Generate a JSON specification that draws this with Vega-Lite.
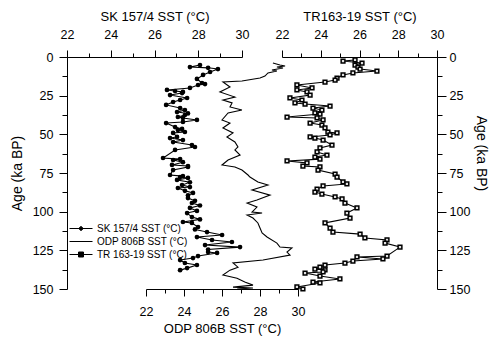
{
  "$schema": "https://vega.github.io/schema/vega-lite/v6.json",
  "width": 370,
  "height": 232,
  "autosize": {"type": "none"},
  "padding": {"left": 67, "top": 57, "right": 53, "bottom": 55},
  "config": {
    "view": {"stroke": null},
    "font": "Liberation Sans",
    "axis": {
      "domainColor": "black", "tickColor": "black", "labelColor": "black", "titleColor": "black",
      "labelFont": "Liberation Sans", "titleFont": "Liberation Sans",
      "labelFontSize": 12.5, "titleFontSize": 13, "titleFontWeight": "normal",
      "grid": false, "domainWidth": 1, "tickWidth": 1, "labelFlush": false, "labelOverlap": false
    },
    "legend": {
      "orient": "none", "legendX": 8.5, "legendY": 166, "padding": 0,
      "labelFont": "Liberation Sans", "labelFontSize": 10, "labelColor": "black",
      "rowPadding": 2, "labelOffset": 10.5, "symbolSize": 100
    }
  },
  "datasets": {
    "sk": [
      {"age": 5.2, "sst": 28.08}, {"age": 6.5, "sst": 27.62}, {"age": 7.0, "sst": 28.45}, {"age": 7.8, "sst": 28.9},
      {"age": 9.7, "sst": 28.54}, {"age": 11.6, "sst": 28.22}, {"age": 14.2, "sst": 27.94}, {"age": 16.8, "sst": 28.17},
      {"age": 17.5, "sst": 28.31}, {"age": 18.1, "sst": 27.99}, {"age": 20.0, "sst": 27.62}, {"age": 21.3, "sst": 26.57},
      {"age": 22.0, "sst": 26.94}, {"age": 22.6, "sst": 27.3}, {"age": 23.3, "sst": 27.26}, {"age": 24.6, "sst": 26.71},
      {"age": 26.5, "sst": 27.49}, {"age": 27.8, "sst": 27.17}, {"age": 29.1, "sst": 26.85}, {"age": 31.0, "sst": 26.53},
      {"age": 33.0, "sst": 27.17}, {"age": 34.3, "sst": 27.39}, {"age": 35.6, "sst": 27.03}, {"age": 36.5, "sst": 27.53},
      {"age": 37.5, "sst": 27.39}, {"age": 38.8, "sst": 27.07}, {"age": 39.4, "sst": 27.3}, {"age": 40.7, "sst": 27.94},
      {"age": 42.0, "sst": 27.3}, {"age": 42.7, "sst": 26.53}, {"age": 45.3, "sst": 26.94}, {"age": 46.5, "sst": 27.26},
      {"age": 47.2, "sst": 27.07}, {"age": 48.5, "sst": 27.39}, {"age": 49.1, "sst": 26.85}, {"age": 51.7, "sst": 27.03},
      {"age": 52.4, "sst": 26.71}, {"age": 53.7, "sst": 27.3}, {"age": 55.0, "sst": 26.85}, {"age": 56.9, "sst": 27.71},
      {"age": 58.2, "sst": 27.85}, {"age": 60.1, "sst": 26.94}, {"age": 65.3, "sst": 26.39}, {"age": 66.0, "sst": 27.17},
      {"age": 66.6, "sst": 26.85}, {"age": 68.0, "sst": 27.3}, {"age": 69.8, "sst": 26.8}, {"age": 70.5, "sst": 27.53},
      {"age": 71.1, "sst": 27.53}, {"age": 73.1, "sst": 26.85}, {"age": 76.3, "sst": 26.71}, {"age": 77.0, "sst": 27.3},
      {"age": 77.6, "sst": 27.17}, {"age": 78.2, "sst": 27.53}, {"age": 79.5, "sst": 27.03}, {"age": 81.0, "sst": 27.62},
      {"age": 82.8, "sst": 27.26}, {"age": 84.1, "sst": 27.62}, {"age": 84.7, "sst": 27.07}, {"age": 86.5, "sst": 27.39},
      {"age": 87.9, "sst": 27.76}, {"age": 89.5, "sst": 27.53}, {"age": 91.2, "sst": 27.53}, {"age": 93.0, "sst": 27.85},
      {"age": 94.4, "sst": 27.71}, {"age": 96.0, "sst": 28.08}, {"age": 97.6, "sst": 27.62}, {"age": 99.5, "sst": 27.94},
      {"age": 100.9, "sst": 27.49}, {"age": 103.5, "sst": 27.71}, {"age": 105.0, "sst": 28.08}, {"age": 106.7, "sst": 27.3},
      {"age": 107.3, "sst": 27.71}, {"age": 109.9, "sst": 27.99}, {"age": 111.5, "sst": 27.85}, {"age": 113.2, "sst": 28.4},
      {"age": 115.1, "sst": 29.09}, {"age": 116.4, "sst": 27.94}, {"age": 118.3, "sst": 28.63}, {"age": 119.6, "sst": 29.54},
      {"age": 121.6, "sst": 28.31}, {"age": 122.9, "sst": 29.91}, {"age": 124.5, "sst": 28.45}, {"age": 126.1, "sst": 28.45},
      {"age": 126.7, "sst": 28.86}, {"age": 128.7, "sst": 27.99}, {"age": 130.0, "sst": 27.76}, {"age": 131.3, "sst": 27.17},
      {"age": 133.2, "sst": 27.39}, {"age": 134.5, "sst": 27.94}, {"age": 136.5, "sst": 27.49}, {"age": 137.8, "sst": 27.17}
    ],
    "odp": [
      {"age": 3.9, "sst": 28.68}, {"age": 5.2, "sst": 29.05}, {"age": 5.8, "sst": 29.32}, {"age": 6.5, "sst": 28.89},
      {"age": 7.1, "sst": 29.21}, {"age": 8.4, "sst": 28.63}, {"age": 9.1, "sst": 28.89}, {"age": 10.3, "sst": 28.42},
      {"age": 12.3, "sst": 28.26}, {"age": 13.6, "sst": 28.0}, {"age": 15.5, "sst": 27.05}, {"age": 16.2, "sst": 26.05},
      {"age": 19.4, "sst": 26.42}, {"age": 22.6, "sst": 25.89}, {"age": 25.9, "sst": 26.68}, {"age": 27.8, "sst": 26.05},
      {"age": 29.7, "sst": 26.53}, {"age": 32.3, "sst": 26.42}, {"age": 34.3, "sst": 27.05}, {"age": 36.2, "sst": 26.32},
      {"age": 40.7, "sst": 26.0}, {"age": 42.7, "sst": 26.42}, {"age": 45.9, "sst": 26.05}, {"age": 49.1, "sst": 26.58},
      {"age": 51.7, "sst": 26.26}, {"age": 54.9, "sst": 26.68}, {"age": 58.2, "sst": 26.84}, {"age": 60.1, "sst": 26.68},
      {"age": 63.4, "sst": 26.95}, {"age": 66.6, "sst": 26.32}, {"age": 69.8, "sst": 26.0}, {"age": 71.1, "sst": 26.68},
      {"age": 73.1, "sst": 27.05}, {"age": 76.3, "sst": 27.37}, {"age": 77.6, "sst": 27.47}, {"age": 80.8, "sst": 27.89},
      {"age": 82.8, "sst": 28.42}, {"age": 86.0, "sst": 27.58}, {"age": 89.3, "sst": 28.53}, {"age": 92.5, "sst": 27.84},
      {"age": 94.4, "sst": 27.32}, {"age": 97.0, "sst": 27.84}, {"age": 100.3, "sst": 27.58}, {"age": 100.9, "sst": 28.11},
      {"age": 102.2, "sst": 27.32}, {"age": 104.1, "sst": 27.63}, {"age": 107.3, "sst": 27.89}, {"age": 110.6, "sst": 28.0},
      {"age": 113.8, "sst": 28.11}, {"age": 116.4, "sst": 28.37}, {"age": 120.3, "sst": 28.89}, {"age": 122.9, "sst": 29.05},
      {"age": 123.5, "sst": 29.68}, {"age": 126.1, "sst": 29.42}, {"age": 128.1, "sst": 29.58}, {"age": 131.3, "sst": 28.16},
      {"age": 133.2, "sst": 26.58}, {"age": 135.9, "sst": 26.84}, {"age": 137.8, "sst": 26.42}, {"age": 141.0, "sst": 26.05},
      {"age": 143.0, "sst": 26.79}, {"age": 145.5, "sst": 27.2}, {"age": 147.5, "sst": 27.63}, {"age": 148.8, "sst": 26.58},
      {"age": 149.4, "sst": 27.63}, {"age": 150.0, "sst": 26.8}
    ],
    "tr": [
      {"age": 1.9, "sst": 25.77}, {"age": 2.6, "sst": 25.15}, {"age": 3.9, "sst": 26.13}, {"age": 5.2, "sst": 25.77},
      {"age": 6.5, "sst": 25.92}, {"age": 7.8, "sst": 26.03}, {"age": 9.1, "sst": 26.9}, {"age": 10.3, "sst": 25.66},
      {"age": 11.6, "sst": 25.15}, {"age": 13.6, "sst": 24.84}, {"age": 14.9, "sst": 24.74}, {"age": 16.2, "sst": 24.22},
      {"age": 18.1, "sst": 22.77}, {"age": 20.0, "sst": 23.55}, {"age": 21.3, "sst": 22.77}, {"age": 22.6, "sst": 23.29},
      {"age": 24.6, "sst": 23.45}, {"age": 26.5, "sst": 22.41}, {"age": 27.8, "sst": 23.03}, {"age": 29.7, "sst": 22.67},
      {"age": 30.4, "sst": 23.19}, {"age": 31.7, "sst": 24.48}, {"age": 33.0, "sst": 23.6}, {"age": 34.3, "sst": 24.06},
      {"age": 36.2, "sst": 23.7}, {"age": 36.9, "sst": 23.96}, {"age": 38.8, "sst": 22.26}, {"age": 39.4, "sst": 23.81},
      {"age": 40.7, "sst": 24.12}, {"age": 42.7, "sst": 23.45}, {"age": 44.0, "sst": 24.06}, {"age": 45.9, "sst": 24.22},
      {"age": 48.5, "sst": 24.37}, {"age": 49.1, "sst": 24.84}, {"age": 50.4, "sst": 24.48}, {"age": 51.7, "sst": 23.45},
      {"age": 52.4, "sst": 23.7}, {"age": 53.7, "sst": 24.12}, {"age": 56.9, "sst": 24.58}, {"age": 58.8, "sst": 23.96},
      {"age": 61.4, "sst": 23.81}, {"age": 63.4, "sst": 24.32}, {"age": 64.7, "sst": 23.7}, {"age": 66.0, "sst": 23.96},
      {"age": 67.2, "sst": 22.26}, {"age": 68.5, "sst": 23.29}, {"age": 70.5, "sst": 23.08}, {"age": 71.1, "sst": 23.96},
      {"age": 73.1, "sst": 23.86}, {"age": 75.7, "sst": 24.74}, {"age": 77.6, "sst": 24.84}, {"age": 80.8, "sst": 25.15},
      {"age": 82.1, "sst": 25.35}, {"age": 83.4, "sst": 24.12}, {"age": 85.4, "sst": 23.81}, {"age": 87.3, "sst": 23.7},
      {"age": 88.6, "sst": 24.06}, {"age": 90.5, "sst": 24.74}, {"age": 91.8, "sst": 25.1}, {"age": 94.4, "sst": 25.25},
      {"age": 97.6, "sst": 25.87}, {"age": 100.9, "sst": 25.35}, {"age": 104.1, "sst": 25.51}, {"age": 107.3, "sst": 24.22},
      {"age": 110.6, "sst": 24.48}, {"age": 113.2, "sst": 24.63}, {"age": 114.5, "sst": 26.03}, {"age": 117.0, "sst": 26.28},
      {"age": 118.3, "sst": 27.42}, {"age": 120.3, "sst": 27.32}, {"age": 122.9, "sst": 28.09}, {"age": 128.7, "sst": 27.42},
      {"age": 129.3, "sst": 25.87}, {"age": 130.6, "sst": 27.21}, {"age": 131.9, "sst": 25.66}, {"age": 133.2, "sst": 25.25},
      {"age": 134.5, "sst": 24.22}, {"age": 135.8, "sst": 23.96}, {"age": 137.1, "sst": 23.7}, {"age": 137.7, "sst": 24.22},
      {"age": 139.0, "sst": 24.12}, {"age": 139.7, "sst": 23.19}, {"age": 141.6, "sst": 23.96}, {"age": 143.5, "sst": 24.99},
      {"age": 145.5, "sst": 23.6}, {"age": 146.1, "sst": 23.96}, {"age": 148.7, "sst": 22.77}, {"age": 150.0, "sst": 23.08}
    ]
  },
  "layer": [
    {
      "data": {"name": "sk"},
      "mark": {"type": "line", "strokeWidth": 1.1},
      "encoding": {
        "x": {"field": "sst", "type": "quantitative",
          "scale": {"domain": [22, 30], "range": [0, 175], "nice": false, "zero": false},
          "axis": {"orient": "top", "values": [22, 23, 24, 25, 26, 27, 28, 29, 30],
            "labelExpr": "datum.value % 2 == 0 ? datum.label : ''",
            "tickSize": {"condition": {"test": "datum.value % 2 == 0", "value": 7}, "value": 4},
            "labelPadding": 9, "title": "SK 157/4 SST (°C)", "titlePadding": 5}},
        "y": {"field": "age", "type": "quantitative",
          "scale": {"domain": [0, 150], "reverse": true, "nice": false, "zero": false},
          "axis": {"orient": "left", "values": [0, 12.5, 25, 37.5, 50, 62.5, 75, 87.5, 100, 112.5, 125, 137.5, 150],
            "labelExpr": "datum.value % 25 == 0 ? datum.label : ''",
            "tickSize": {"condition": {"test": "datum.value % 25 == 0", "value": 8}, "value": 5},
            "labelPadding": 6, "title": "Age (ka BP)", "titlePadding": 8, "titleFontSize": 14}},
        "order": {"field": "age", "type": "quantitative"},
        "color": {"datum": "SK 157/4 SST (°C)", "type": "nominal",
          "scale": {"domain": ["SK 157/4 SST (°C)", "ODP 806B SST (°C)", "TR 163-19 SST (°C)"], "range": ["black", "black", "black"]},
          "legend": {"title": null,
            "encode": {"symbols": {"update": {
              "shape": {"signal": "indexof(datum.value, 'SK') == 0 ? 'M-2.3,0L2.3,0M-0.45,0L0,-0.45L0.45,0L0,0.45Z' : indexof(datum.value, 'TR') == 0 ? 'M-2.3,0L2.3,0M-0.5,-0.5L0.5,-0.5L0.5,0.5L-0.5,0.5Z' : 'M-2.3,0L2.3,0'"},
              "fill": {"value": "black"}, "stroke": {"value": "black"}, "strokeWidth": {"value": 1}, "size": {"value": 100}, "opacity": {"value": 1}}}}}}
      }
    },
    {
      "data": {"name": "sk"},
      "mark": {"type": "point", "shape": "circle", "filled": true, "size": 22, "color": "black", "opacity": 1},
      "encoding": {
        "x": {"field": "sst", "type": "quantitative", "scale": {"domain": [22, 30], "range": [0, 175], "nice": false, "zero": false}, "axis": null},
        "y": {"field": "age", "type": "quantitative", "axis": null}
      }
    },
    {
      "data": {"name": "odp"},
      "mark": {"type": "line", "strokeWidth": 1.1},
      "encoding": {
        "x": {"field": "sst", "type": "quantitative",
          "scale": {"domain": [22, 30], "range": [79, 231], "nice": false, "zero": false},
          "axis": {"orient": "bottom", "values": [22, 23, 24, 25, 26, 27, 28, 29, 30],
            "labelExpr": "datum.value % 2 == 0 ? datum.label : ''",
            "tickSize": {"condition": {"test": "datum.value % 2 == 0", "value": 7}, "value": 4},
            "labelPadding": 9, "title": "ODP 806B SST (°C)", "titlePadding": 5}},
        "y": {"field": "age", "type": "quantitative",
          "axis": {"orient": "right", "values": [0, 12.5, 25, 37.5, 50, 62.5, 75, 87.5, 100, 112.5, 125, 137.5, 150],
            "labelExpr": "datum.value % 25 == 0 ? datum.label : ''",
            "tickSize": {"condition": {"test": "datum.value % 25 == 0", "value": 9}, "value": 5},
            "labelPadding": 3, "title": "Age (ka BP)", "titlePadding": 4, "titleFontSize": 14, "titleY": 96}},
        "order": {"field": "age", "type": "quantitative"},
        "color": {"datum": "ODP 806B SST (°C)", "type": "nominal"}
      }
    },
    {
      "data": {"name": "tr"},
      "mark": {"type": "line", "strokeWidth": 1.1},
      "encoding": {
        "x": {"field": "sst", "type": "quantitative",
          "scale": {"domain": [22, 30], "range": [215, 370], "nice": false, "zero": false},
          "axis": {"orient": "top", "values": [22, 23, 24, 25, 26, 27, 28, 29, 30],
            "labelExpr": "datum.value % 2 == 0 ? datum.label : ''",
            "tickSize": {"condition": {"test": "datum.value % 2 == 0", "value": 7}, "value": 4},
            "labelPadding": 9, "title": "TR163-19 SST (°C)", "titlePadding": 5}},
        "y": {"field": "age", "type": "quantitative", "axis": null},
        "order": {"field": "age", "type": "quantitative"},
        "color": {"datum": "TR 163-19 SST (°C)", "type": "nominal"}
      }
    },
    {
      "data": {"name": "tr"},
      "mark": {"type": "point", "shape": "square", "filled": false, "size": 14, "stroke": "black", "fill": "#e0e0e0", "strokeWidth": 1.5, "opacity": 1},
      "encoding": {
        "x": {"field": "sst", "type": "quantitative", "scale": {"domain": [22, 30], "range": [215, 370], "nice": false, "zero": false}, "axis": null},
        "y": {"field": "age", "type": "quantitative", "axis": null}
      }
    }
  ],
  "resolve": {"scale": {"x": "independent"}, "axis": {"x": "independent", "y": "independent"}}
}
